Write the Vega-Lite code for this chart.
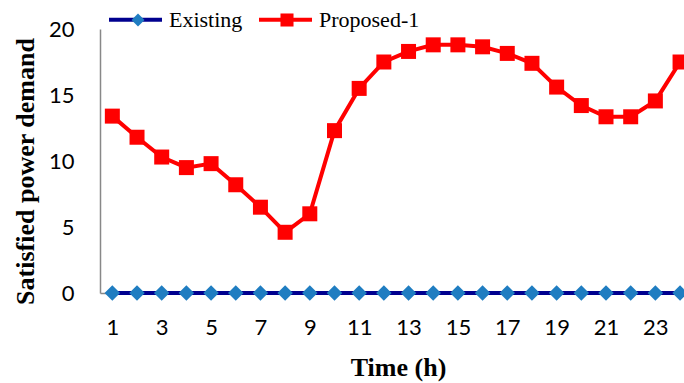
{
  "$schema": "https://vega.github.io/schema/vega-lite/v6.json",
  "width": 584,
  "height": 264,
  "autosize": {"type": "none"},
  "padding": {"left": 100, "top": 29, "right": 0, "bottom": 90},
  "background": "white",
  "config": {"view": {"stroke": null}},
  "data": {
    "values": [
      {"hour": 1, "Existing": 0, "Proposed-1": 13.4},
      {"hour": 2, "Existing": 0, "Proposed-1": 11.8},
      {"hour": 3, "Existing": 0, "Proposed-1": 10.3},
      {"hour": 4, "Existing": 0, "Proposed-1": 9.5},
      {"hour": 5, "Existing": 0, "Proposed-1": 9.8},
      {"hour": 6, "Existing": 0, "Proposed-1": 8.2},
      {"hour": 7, "Existing": 0, "Proposed-1": 6.5},
      {"hour": 8, "Existing": 0, "Proposed-1": 4.6},
      {"hour": 9, "Existing": 0, "Proposed-1": 6.0},
      {"hour": 10, "Existing": 0, "Proposed-1": 12.3},
      {"hour": 11, "Existing": 0, "Proposed-1": 15.5},
      {"hour": 12, "Existing": 0, "Proposed-1": 17.5},
      {"hour": 13, "Existing": 0, "Proposed-1": 18.3},
      {"hour": 14, "Existing": 0, "Proposed-1": 18.8},
      {"hour": 15, "Existing": 0, "Proposed-1": 18.8},
      {"hour": 16, "Existing": 0, "Proposed-1": 18.65},
      {"hour": 17, "Existing": 0, "Proposed-1": 18.15},
      {"hour": 18, "Existing": 0, "Proposed-1": 17.4},
      {"hour": 19, "Existing": 0, "Proposed-1": 15.6},
      {"hour": 20, "Existing": 0, "Proposed-1": 14.2},
      {"hour": 21, "Existing": 0, "Proposed-1": 13.35},
      {"hour": 22, "Existing": 0, "Proposed-1": 13.35},
      {"hour": 23, "Existing": 0, "Proposed-1": 14.55},
      {"hour": 24, "Existing": 0, "Proposed-1": 17.5}
    ]
  },
  "transform": [{"fold": ["Existing", "Proposed-1"], "as": ["series", "value"]}],
  "encoding": {
    "x": {
      "field": "hour", "type": "quantitative",
      "scale": {"domain": [0.5, 24.16], "nice": false, "zero": false},
      "axis": {
        "values": [1, 3, 5, 7, 9, 11, 13, 15, 17, 19, 21, 23],
        "grid": false, "ticks": false,
        "domainColor": "#888888", "domainWidth": 1.5,
        "labelFont": "Lato", "labelFontSize": 22, "labelColor": "#000000",
        "labelPadding": 24, "labelFlush": false, "labelOverlap": false,
        "title": "Time (h)",
        "titleFont": "Liberation Serif", "titleFontSize": 26, "titleFontWeight": "bold", "titleColor": "#000000",
        "titleX": 298, "titleY": 74, "titleBaseline": "middle", "titleAlign": "center"
      }
    },
    "y": {
      "field": "value", "type": "quantitative",
      "scale": {"domain": [0, 20], "nice": false},
      "axis": {
        "values": [0, 5, 10, 15, 20],
        "grid": false, "ticks": false,
        "domainColor": "#888888", "domainWidth": 1.5,
        "labelFont": "Lato", "labelFontSize": 22, "labelColor": "#000000",
        "labelPadding": 26,
        "title": "Satisfied power demand",
        "titleFont": "Liberation Serif", "titleFontSize": 26, "titleFontWeight": "bold", "titleColor": "#000000",
        "titleAngle": -90, "titleX": -75, "titleY": 142, "titleBaseline": "middle", "titleAlign": "center"
      }
    }
  },
  "layer": [
    {
      "mark": {"type": "line", "strokeWidth": 4},
      "encoding": {
        "stroke": {
          "field": "series", "type": "nominal",
          "scale": {"domain": ["Existing", "Proposed-1"], "range": ["#00008f", "#ff0000"]},
          "legend": {
            "orient": "none", "legendX": 7, "legendY": -38, "padding": 0, "direction": "horizontal",
            "title": null, "symbolType": "stroke", "symbolSize": 2809, "symbolStrokeWidth": 4,
            "labelFont": "Liberation Serif", "labelFontSize": 22, "labelColor": "#000000",
            "labelOffset": 5, "columnPadding": 8
          }
        }
      }
    },
    {
      "mark": {"type": "point", "filled": true, "opacity": 1},
      "encoding": {
        "fill": {
          "field": "series", "type": "nominal",
          "scale": {"range": ["#1f7dc1", "#ff0000"]},
          "legend": {
            "orient": "none", "legendX": 27, "legendY": -20, "padding": 0, "direction": "horizontal",
            "title": null, "symbolSize": 170, "symbolOpacity": 1, "symbolStrokeWidth": 0,
            "labelFont": "Liberation Serif", "labelFontSize": 22, "labelOpacity": 0,
            "labelOffset": 45, "columnPadding": 8
          }
        },
        "shape": {
          "field": "series", "type": "nominal",
          "scale": {"range": ["diamond", "square"]}
        },
        "size": {
          "field": "series", "type": "nominal",
          "scale": {"domain": ["Proposed-1", "Existing"], "range": [225, 240]},
          "legend": null
        }
      }
    }
  ]
}
